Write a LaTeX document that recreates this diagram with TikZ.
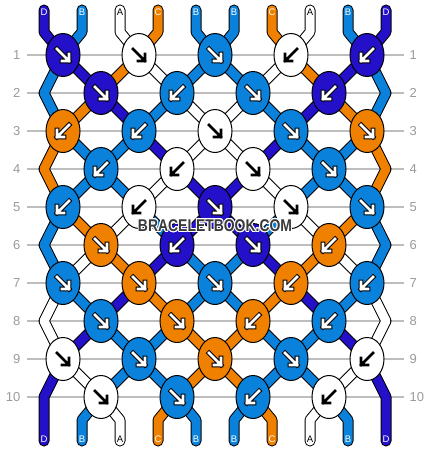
\documentclass[tikz,border=0pt]{standalone}
\usepackage{fontspec}
\setmainfont{Liberation Sans}
\usepackage{contour}
\contourlength{1.1pt}
\usetikzlibrary{shapes.geometric}
\definecolor{colD}{HTML}{2410C8}
\definecolor{colB}{HTML}{0A82DC}
\definecolor{colA}{HTML}{FFFFFF}
\definecolor{colC}{HTML}{F08000}
\definecolor{gridgray}{HTML}{BDBDBD}
\definecolor{numgray}{HTML}{9A9A9A}
\definecolor{markgray}{HTML}{3A3A3A}
\pgfdeclarelayer{grid}
\pgfdeclarelayer{threads}
\pgfsetlayers{grid,threads,main}
\tikzset{
  knot/.style={ellipse, draw=black, line width=1pt, minimum width=34pt, minimum height=43pt, inner sep=0pt},
  thread rim/.style={line width=11pt, line cap=round, line join=round, draw=black},
  thread core/.style={line width=9pt, line cap=round, line join=round},
  rowline/.style={draw=gridgray, line width=1.2pt},
  rownum/.style={font=\fontsize{13}{13}\selectfont, text=numgray, inner sep=0pt},
  endlabel/.style={font=\fontsize{9.5}{10}\selectfont, inner sep=0pt},
  tip rim/.style={draw=black, line width=4.6pt},
  tip core/.style={draw=white, line width=2.6pt},
  tip A/.style={tip rim/.style={draw=none}, tip core/.style={draw=black, line width=2.8pt}},
  tip B/.style={}, tip C/.style={}, tip D/.style={},
  pics/knotarrow/.style={code={
    \draw[tip rim, line cap=rect] (-6,-6) -- (6,6) (-1,6) -- (6,6) -- (6,-1);
    \draw[tip core, line cap=rect] (-6,-6) -- (6,6) (-1,6) -- (6,6) -- (6,-1);
  }}
}
\begin{document}
\begin{tikzpicture}[x=1pt,y=-1pt]
  \useasboundingbox (0,0) rectangle (430,452);
  % row numbers and guide lines
  \foreach \r in {1,...,10} {
    \pgfmathsetmacro{\y}{55+38*(\r-1)}
    \node[rownum, anchor=east] (rl\r) at (20.5,\y) {\r};
    \node[rownum, anchor=west] (rr\r) at (409.5,\y) {\r};
    \begin{pgfonlayer}{grid}
      \draw[rowline] ([xshift=6pt]rl\r.east) -- ([xshift=-6pt]rr\r.west);
    \end{pgfonlayer}
  }
  % knots: colour / direction (1 = right, -1 = left)
  \foreach \r/\row in {1/{D/1,A/1,B/1,A/-1,D/-1},
                       2/{D/1,B/-1,B/1,D/-1},
                       3/{C/-1,B/-1,A/1,B/1,C/1},
                       4/{B/-1,A/-1,A/1,B/1},
                       5/{B/-1,A/-1,D/1,A/1,B/1},
                       6/{C/1,D/-1,D/1,C/-1},
                       7/{B/1,C/1,B/1,C/-1,B/-1},
                       8/{B/1,C/1,C/-1,B/-1},
                       9/{A/1,B/1,C/1,B/1,A/-1},
                       10/{A/1,B/1,B/-1,A/-1}} {
    \pgfmathsetmacro{\x}{mod(\r,2)==1 ? 63 : 101}
    \pgfmathsetmacro{\y}{55+38*(\r-1)}
    \foreach \c/\d [count=\j] in \row {
      \node[knot, fill=col\c] (k\r-\j) at ({\x+76*(\j-1)},\y) {};
      \pic[xscale=\d, tip \c] at (k\r-\j) {knotarrow};
    }
  }
  % turning points at the edges
  \foreach \r in {2,4,...,10} {
    \pgfmathsetmacro{\y}{55+38*(\r-1)}
    \coordinate (eL\r) at (44,\y);
    \coordinate (eR\r) at (386,\y);
  }
  % thread ends and letters
  \foreach \i/\c/\t in {1/D/white,2/B/white,3/A/black,4/C/white,5/B/white,
                        6/B/white,7/C/white,8/A/black,9/B/white,10/D/white} {
    \pgfmathsetmacro{\x}{44+38*(\i-1)}
    \coordinate (t\i) at (\x,10);
    \coordinate (u\i) at (\x,32);
    \coordinate (v\i) at (\x,420);
    \coordinate (b\i) at (\x,441);
    \node[endlabel, text=\t] (lt\i) at (\x,12.5) {\c};
    \node[endlabel, text=\t] (lb\i) at (\x,439.5) {\c};
  }
  % threads
  \begin{pgfonlayer}{threads}
    \foreach \c/\s/\e/\via in {
      D/1/10/{k1-1,k2-1,k3-2,k4-2,k5-3,k6-3,k7-4,k8-4,k9-5,eR10},
      B/2/9/{k1-1,eL2,k3-1,k4-1,k5-2,k6-2,k7-3,k8-3,k9-4,k10-4},
      A/3/8/{k1-2,k2-2,k3-3,k4-3,k5-4,k6-4,k7-5,eR8,k9-5,k10-4},
      C/4/7/{k1-2,k2-1,k3-1,eL4,k5-1,k6-1,k7-2,k8-2,k9-3,k10-3},
      B/5/6/{k1-3,k2-3,k3-4,k4-4,k5-5,eR6,k7-5,k8-4,k9-4,k10-3},
      B/6/5/{k1-3,k2-2,k3-2,k4-1,k5-1,eL6,k7-1,k8-1,k9-2,k10-2},
      C/7/4/{k1-4,k2-4,k3-5,eR4,k5-5,k6-4,k7-4,k8-3,k9-3,k10-2},
      A/8/3/{k1-4,k2-3,k3-3,k4-2,k5-2,k6-1,k7-1,eL8,k9-1,k10-1},
      B/9/2/{k1-5,eR2,k3-5,k4-4,k5-4,k6-3,k7-3,k8-2,k9-2,k10-1},
      D/10/1/{k1-5,k2-4,k3-4,k4-3,k5-3,k6-2,k7-2,k8-1,k9-1,eL10}} {
      \draw[thread rim] (t\s) -- (u\s) \foreach \n in \via {-- (\n.center)} -- (v\e) -- (b\e);
      \draw[thread core, draw=col\c] (t\s) -- (u\s) \foreach \n in \via {-- (\n.center)} -- (v\e) -- (b\e);
    }
  \end{pgfonlayer}
  % watermark
  \node[font=\bfseries\fontsize{17}{17}\selectfont, text=markgray, xscale=0.82] (mark) at (215,226) {\contour{white}{BRACELETBOOK.COM}};
\end{tikzpicture}
\end{document}
